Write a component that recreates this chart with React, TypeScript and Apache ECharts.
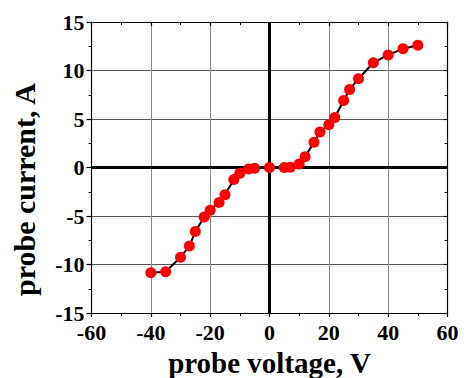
import React, { useEffect, useRef } from "react";
import * as echarts from "echarts";

const voltage = [-40, -35, -30, -27, -25, -22, -20, -17, -15, -12, -10, -7, -5, 0, 5, 7, 10, 12, 15, 17, 20, 22, 25, 27, 30, 35, 40, 45, 50];
const current = [-10.85, -10.75, -9.25, -8.1, -6.6, -5.1, -4.4, -3.6, -2.8, -1.24, -0.6, -0.15, -0.07, 0, 0, 0.03, 0.35, 1.1, 2.6, 3.65, 4.4, 5.15, 6.9, 8.05, 9.15, 10.8, 11.6, 12.25, 12.6];

const xTitle = "probe voltage, V";
const yTitle = "probe current, A";

export default function App() {
  const ref = useRef<HTMLDivElement>(null);
  useEffect(() => {
    const chart = echarts.init(ref.current!, null, { renderer: "svg" });
    const font = "Liberation Serif";
    const labelStyle = { fontFamily: font, fontWeight: "bold", fontSize: 22, color: "#000" };
    const axisLine = { show: true, onZero: false, lineStyle: { color: "#000", width: 1.2 } };
    chart.setOption({
      animation: false,
      grid: { left: 91.5, right: 16.5, top: 22, bottom: 65, containLabel: false, outerBoundsMode: "none" },
      xAxis: [
        {
          type: "value",
          position: "bottom",
          min: -60, max: 60, interval: 20,
          axisLine,
          axisTick: { show: true, inside: false, length: 4, lineStyle: { color: "#000", width: 1.2 } },
          minorTick: { show: true, splitNumber: 2, length: 3, lineStyle: { color: "#000", width: 1 } },
          axisLabel: { ...labelStyle, margin: 8 },
          splitLine: { show: true, lineStyle: { color: "#888", width: 1 } },
          name: xTitle,
          nameLocation: "middle",
          nameGap: 35,
          nameTextStyle: { fontFamily: font, fontWeight: "bold", fontSize: 29, color: "#000" },
        },
        {
          type: "value",
          position: "top",
          min: -60, max: 60, interval: 20,
          axisLine,
          axisTick: { show: true, inside: true, length: 4, lineStyle: { color: "#000", width: 1.2 } },
          minorTick: { show: true, splitNumber: 2, length: 3, lineStyle: { color: "#000", width: 1 } },
          axisLabel: { show: false },
          splitLine: { show: false },
        },
      ],
      yAxis: [
        {
          type: "value",
          position: "left",
          min: -15, max: 15, interval: 5,
          axisLine,
          axisTick: { show: true, inside: false, length: 5, lineStyle: { color: "#000", width: 1.2 } },
          minorTick: { show: true, splitNumber: 2, length: 3, lineStyle: { color: "#000", width: 1 } },
          axisLabel: { ...labelStyle, margin: 7 },
          splitLine: { show: true, lineStyle: { color: "#555", width: 1 } },
          name: yTitle,
          nameLocation: "middle",
          nameGap: 52,
          nameTextStyle: { fontFamily: font, fontWeight: "bold", fontSize: 30, color: "#000", padding: [0, 44, 0, 0] },
        },
        {
          type: "value",
          position: "right",
          min: -15, max: 15, interval: 5,
          axisLine,
          axisTick: { show: true, inside: true, length: 4, lineStyle: { color: "#000", width: 1.2 } },
          minorTick: { show: true, splitNumber: 2, length: 3, lineStyle: { color: "#000", width: 1 } },
          axisLabel: { show: false },
          splitLine: { show: false },
        },
      ],
      series: [
        {
          type: "line",
          data: voltage.map((v, i) => [v, current[i]]),
          lineStyle: { color: "#000", width: 2 },
          symbol: "circle",
          symbolSize: 11,
          itemStyle: { color: "#ff0000" },
          z: 5,
          markLine: {
            silent: true,
            symbol: "none",
            label: { show: false },
            lineStyle: { color: "#000", width: 3, type: "solid" },
            data: [{ xAxis: 0 }, { yAxis: 0 }],
          },
        },
      ],
    });
    return () => chart.dispose();
  }, []);
  return <div ref={ref} style={{ position: "absolute", left: 0, top: 0, width: 464, height: 378 }} />;
}
